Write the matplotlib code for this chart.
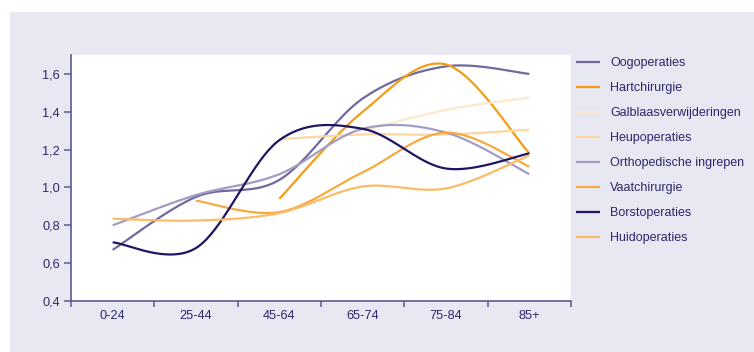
import numpy as np
import matplotlib
matplotlib.use("Agg")
import matplotlib.pyplot as plt
from matplotlib.patches import Rectangle

plt.rcParams['font.family'] = ['Liberation Sans', 'DejaVu Sans']

# Age groups on the x axis
age_groups = ["0-24", "25-44", "45-64", "65-74", "75-84", "85+"]

# Relative rates per age group (None = no value for that group)
oogoperaties = [0.67, 0.95, 1.04, 1.47, 1.64, 1.60]
hartchirurgie = [None, None, 0.94, 1.40, 1.65, 1.18]
galblaasverwijderingen = [None, None, None, 1.30, 1.41, 1.475]
heupoperaties = [None, None, 1.255, 1.28, 1.28, 1.305]
orthopedische_ingrepen = [0.80, 0.96, 1.07, 1.31, 1.29, 1.07]
vaatchirurgie = [None, 0.93, 0.87, 1.08, 1.29, 1.11]
borstoperaties = [0.71, 0.68, 1.25, 1.31, 1.10, 1.18]
huidoperaties = [0.835, 0.825, 0.865, 1.005, 0.995, 1.17]

series = [
    ("Oogoperaties", oogoperaties, "#6e6a9e"),
    ("Hartchirurgie", hartchirurgie, "#f39c16"),
    ("Galblaasverwijderingen", galblaasverwijderingen, "#fde9cb"),
    ("Heupoperaties", heupoperaties, "#fdd6a0"),
    ("Orthopedische ingrepen", orthopedische_ingrepen, "#a19dc4"),
    ("Vaatchirurgie", vaatchirurgie, "#f7aa3e"),
    ("Borstoperaties", borstoperaties, "#1e1563"),
    ("Huidoperaties", huidoperaties, "#fbbc66"),
]

TEXT = "#2a2868"
AXIS = "#5c5a8e"
PANEL = "#e8e8f2"
FS = 9.2


def smooth(xs, ys, n=40):
    """Smoothed line through the points (cubic Bezier, Catmull-Rom tangents)."""
    pts = np.column_stack([xs, ys]).astype(float)
    if len(pts) < 2:
        return pts[:, 0], pts[:, 1]
    ext = np.vstack([pts[0], pts, pts[-1]])
    out = []
    t = np.linspace(0, 1, n)[:, None]
    for i in range(len(pts) - 1):
        p0, p1, p2, p3 = ext[i], ext[i + 1], ext[i + 2], ext[i + 3]
        c1 = p1 + (p2 - p0) / 6.0
        c2 = p2 - (p3 - p1) / 6.0
        seg = ((1 - t) ** 3) * p1 + 3 * ((1 - t) ** 2) * t * c1 + 3 * (1 - t) * t ** 2 * c2 + t ** 3 * p2
        out.append(seg if i == 0 else seg[1:])
    out = np.vstack(out)
    return out[:, 0], out[:, 1]


fig = plt.figure(figsize=(7.54, 3.52), dpi=100)
fig.patches.append(Rectangle((10 / 754, 0), 1 - 10 / 754, 1 - 12 / 352,
                             transform=fig.transFigure, facecolor=PANEL,
                             edgecolor="none", zorder=-10))

ax = fig.add_axes([71 / 754, 51 / 352, 500 / 754, 246 / 352])
ax.set_facecolor("white")

x = np.arange(len(age_groups))
for name, vals, color in series:
    xs = [xi for xi, v in zip(x, vals) if v is not None]
    ys = [v for v in vals if v is not None]
    sx, sy = smooth(xs, ys)
    ax.plot(sx, sy, color=color, lw=1.6, label=name, solid_capstyle="butt")

ax.set_xlim(-0.5, len(age_groups) - 0.5)
ax.set_ylim(0.4, 1.7)

# category boundaries as ticks, labels centred in each category
ax.set_xticks(np.arange(-0.5, len(age_groups), 1.0))
ax.set_xticklabels([])
ax.set_xticks(x, minor=True)
ax.set_xticklabels(age_groups, minor=True)
ax.tick_params(axis="x", which="major", direction="out", length=4, width=1.1, color=AXIS)
ax.tick_params(axis="x", which="minor", length=0, pad=6.5, labelsize=FS, labelcolor=TEXT)

yticks = np.arange(0.4, 1.61, 0.2)
ax.set_yticks(yticks)
ax.set_yticklabels([f"{v:.1f}".replace(".", ",") for v in yticks])
ax.tick_params(axis="y", direction="out", length=5, width=1.1, color=AXIS,
               labelsize=FS, labelcolor=TEXT, pad=3)

for side in ("top", "right"):
    ax.spines[side].set_visible(False)
for side in ("left", "bottom"):
    ax.spines[side].set_color(AXIS)
    ax.spines[side].set_linewidth(1.2)

leg = fig.legend(loc="upper left", bbox_to_anchor=(576 / 754, 1 - 57 / 352),
                 frameon=False, fontsize=9, handlelength=1.92, handletextpad=0.8,
                 labelspacing=1.04, borderaxespad=0, borderpad=0)
for t in leg.get_texts():
    t.set_color(TEXT)

fig.savefig("out.png", dpi=100)
